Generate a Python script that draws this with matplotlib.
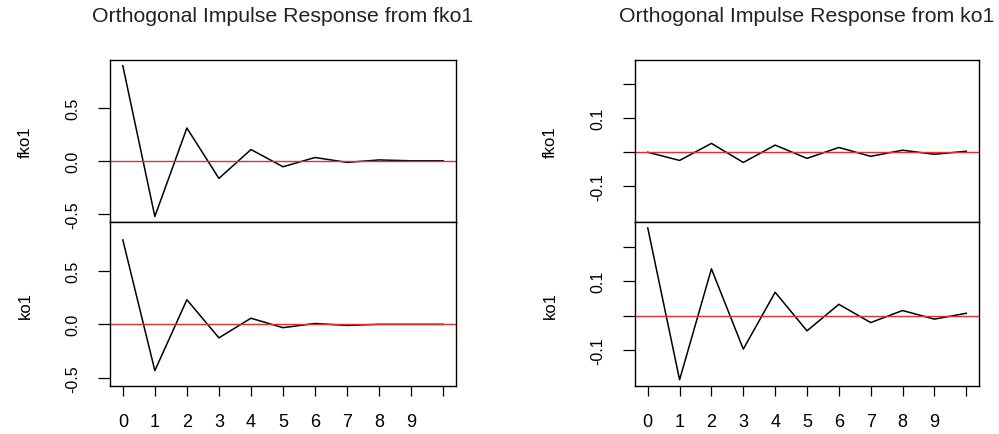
import matplotlib.pyplot as plt

plt.rcParams['font.family'] = ['Liberation Sans', 'DejaVu Sans']

# horizon steps (0..10), labels shown 0..9 only
steps = list(range(11))
step_labels = ['0', '1', '2', '3', '4', '5', '6', '7', '8', '9', '']

# impulse from fko1
fko1_from_fko1 = [0.896, -0.525, 0.309, -0.166, 0.106, -0.056, 0.031, -0.015, 0.008, 0.0, 0.0]
ko1_from_fko1 = [0.786, -0.431, 0.229, -0.126, 0.057, -0.031, 0.008, -0.010, 0.0, 0.0, 0.0]

# impulse from ko1
fko1_from_ko1 = [0.0, -0.024, 0.026, -0.030, 0.021, -0.018, 0.014, -0.012, 0.006, -0.006, 0.003]
ko1_from_ko1 = [0.255, -0.186, 0.136, -0.097, 0.068, -0.044, 0.033, -0.020, 0.015, -0.010, 0.007]

titles = ['Orthogonal Impulse Response from fko1', 'Orthogonal Impulse Response from ko1']
left_yticks = [-0.5, 0.0, 0.5]
left_ylabels = ['-0.5', '0.0', '0.5']
right_yticks = [-0.1, 0.0, 0.1, 0.2]
right_ylabels = ['-0.1', '', '0.1', '']

W, H = 999, 435
fig = plt.figure(figsize=(W / 100, H / 100), dpi=100)


def panel(x0, x1, ytop, ybot, ys, ylim, yticks, ylabels, name, bottom):
    ax = fig.add_axes([x0 / W, (H - ybot) / H, (x1 - x0) / W, (ybot - ytop) / H])
    ax.plot(steps, ys, color='black', lw=1.1)
    ax.axhline(0, color='#dd3030', lw=1.0)
    ax.set_xlim(-0.4, 10.4)
    ax.set_ylim(*ylim)
    ax.set_yticks(yticks)
    ax.set_yticklabels(ylabels, rotation=90, va='center')
    ax.tick_params(axis='y', length=8.5, width=0.9, pad=13, labelsize=11.5)
    ax.set_ylabel(name, fontsize=12, labelpad=23)
    if bottom:
        ax.set_xticks(steps)
        ax.set_xticklabels(step_labels)
        ax.tick_params(axis='x', length=7, width=0.9, pad=12, labelsize=13)
    else:
        ax.set_xticks([])
    for s in ax.spines.values():
        s.set_linewidth(1.0)
    return ax


# left column
lim_l = (-0.577, 0.953)
ax = panel(110, 456, 60.7, 223, fko1_from_fko1, lim_l, left_yticks, left_ylabels, 'fko1', False)
ax.set_title(titles[0], fontsize=15.3, pad=28, color='#222222')
panel(110, 456, 223, 387.3, ko1_from_fko1, lim_l, left_yticks, left_ylabels, 'ko1', True)

# right column
lim_r = (-0.205, 0.272)
ax = panel(635, 979, 60.7, 223, fko1_from_ko1, lim_r, right_yticks, right_ylabels, 'fko1', False)
ax.set_title(titles[1], fontsize=15.3, pad=28, color='#222222')
panel(635, 979, 223, 387.3, ko1_from_ko1, lim_r, right_yticks, right_ylabels, 'ko1', True)

fig.savefig('out.png', dpi=100)
